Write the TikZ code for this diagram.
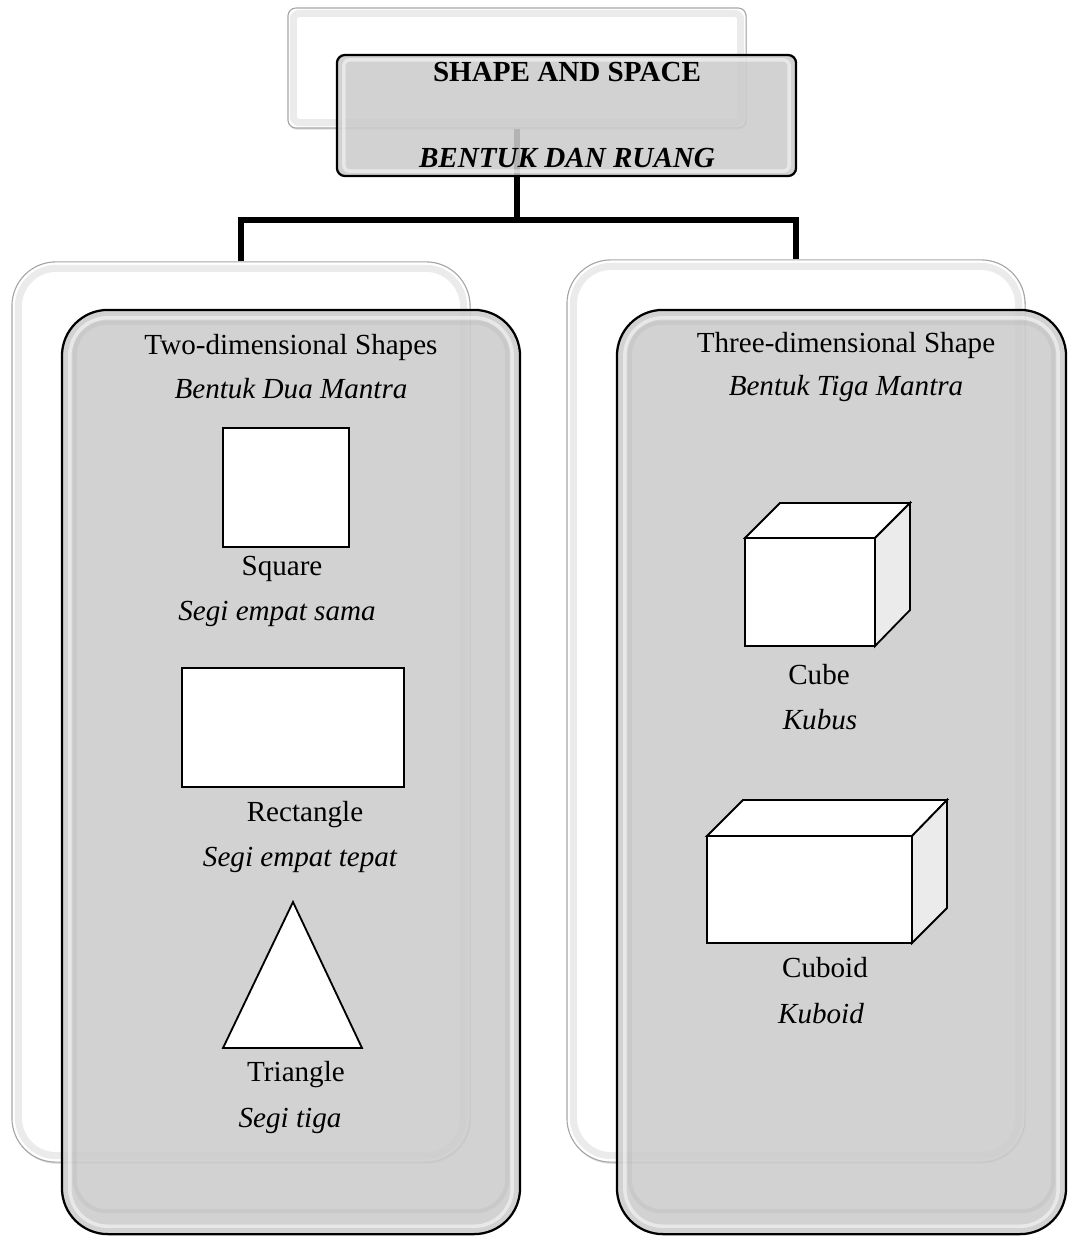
\documentclass[tikz,border=0pt]{standalone}
\usepackage{fontspec}
\setmainfont{Liberation Serif}
\usetikzlibrary{shadows}
\begin{document}
\begin{tikzpicture}[x=0.025cm,y=-0.025cm,
  backbox/.style={draw=black!35,fill=white,line width=0.8pt,inner sep=0pt,
    drop shadow={opacity=0.25,shadow xshift=0.6pt,shadow yshift=-1.2pt}},
  backbevel/.style={draw=black!8,line width=5pt},
  frontbox/.style={draw=black,fill=black!20,fill opacity=0.88,line width=1.6pt,inner sep=0pt},
  bevellight/.style={draw=white,line width=2.5pt,opacity=0.5},
  beveldark/.style={draw=black!30,line width=3pt,opacity=0.25},
  txt/.style={font=\fontsize{20.7}{24}\selectfont,inner sep=0pt},
  itxt/.style={txt,font=\fontsize{20.7}{24}\selectfont\itshape},
  btxt/.style={txt,font=\fontsize{20.7}{24}\selectfont\bfseries},
  conn/.style={line width=3.6pt},
  solid2d/.style={draw=black,fill=white,line width=1.3pt},
  side3d/.style={draw=black,fill=black!8,line width=1.3pt,line join=miter},
]
\useasboundingbox (0,0) rectangle (1068,1236);

% back boxes
\node[backbox,rounded corners=0.2cm,minimum width=11.45cm,minimum height=3.0cm] (tb) at (517,68) {};
\node[backbox,rounded corners=1.1cm,minimum width=11.45cm,minimum height=22.5cm] (lb) at (241,712) {};
\node[backbox,rounded corners=1.1cm,minimum width=11.45cm,minimum height=22.55cm] (rb) at (796,711) {};
% back-box bevels
\draw[backbevel,rounded corners=0.15cm] ([shift={(6,6)}]tb.north west) rectangle ([shift={(-6,-6)}]tb.south east);
\draw[backbevel,rounded corners=0.95cm] ([shift={(7,7)}]lb.north west) rectangle ([shift={(-7,-7)}]lb.south east);
\draw[backbevel,rounded corners=0.95cm] ([shift={(7,7)}]rb.north west) rectangle ([shift={(-7,-7)}]rb.south east);

% connectors
\coordinate (j) at (517,220);
\draw[conn] (tb.south) -- (j);
\draw[conn] (lb.north) |- (j) -| (rb.north);

% front boxes
\node[frontbox,rounded corners=0.2cm,minimum width=11.475cm,minimum height=3.025cm] (tf) at (566.5,115.5) {};
\node[frontbox,rounded corners=1.15cm,minimum width=11.45cm,minimum height=23.1cm] (lf) at (291,772) {};
\node[frontbox,rounded corners=1.15cm,minimum width=11.225cm,minimum height=23.1cm] (rf) at (841.5,772) {};
% front-box bevels
\draw[bevellight,rounded corners=0.15cm] ([shift={(8,6)}]tf.north west) rectangle ([shift={(-8,-6)}]tf.south east);
\draw[bevellight,rounded corners=0.95cm] ([shift={(9,9)}]lf.north west) rectangle ([shift={(-9,-9)}]lf.south east);
\draw[bevellight,rounded corners=0.95cm] ([shift={(9,9)}]rf.north west) rectangle ([shift={(-9,-9)}]rf.south east);
\draw[beveldark,rounded corners=0.8cm] ([shift={(14,14)}]lf.north west) rectangle ([shift={(-14,-24)}]lf.south east);
\draw[beveldark,rounded corners=0.8cm] ([shift={(14,14)}]rf.north west) rectangle ([shift={(-14,-24)}]rf.south east);

% title texts
\node[btxt] (title) at (567,72) {SHAPE AND SPACE};
\node[btxt,font=\fontsize{20.7}{24}\selectfont\bfseries\itshape] (titlem) at (567,158) {BENTUK DAN RUANG};

% left column
\node[txt] (h2) at (291,347) {Two-dimensional Shapes};
\node[itxt] (h2m) at (291,389) {Bentuk Dua Mantra};
\node[solid2d,minimum width=3.15cm,minimum height=2.975cm,inner sep=0pt] (sq) at (286,487.5) {};
\node[txt] (sqt) at (282,569) {Square};
\node[itxt] (sqm) at (277,614) {Segi empat sama};
\node[solid2d,minimum width=5.55cm,minimum height=2.975cm,inner sep=0pt] (re) at (293,727.5) {};
\node[txt] (ret) at (305,815) {Rectangle};
\node[itxt] (rem) at (300,860) {Segi empat tepat};
\coordinate (ta) at (293,902);
\coordinate (tl) at (223,1048);
\coordinate (tr) at (362,1048);
\draw[solid2d,line join=miter] (ta) -- (tl) -- (tr) -- cycle;
\node[txt] (trt) at (296,1075) {Triangle};
\node[itxt] (trm) at (290,1121) {Segi tiga};

% right column
\node[txt] (h3) at (846,345) {Three-dimensional Shape};
\node[itxt] (h3m) at (846,388) {Bentuk Tiga Mantra};
% cube
\draw[solid2d,line join=miter] (745,538) -- (780,503) -- (910,503) -- (875,538) -- cycle;
\draw[side3d] (875,538) -- (910,503) -- (910,610) -- (875,646) -- cycle;
\node[solid2d,minimum width=3.25cm,minimum height=2.7cm,inner sep=0pt] (cube) at (810,592) {};
\node[txt] (cut) at (819,675) {Cube};
\node[itxt] (cum) at (820,720) {Kubus};
% cuboid
\draw[solid2d,line join=miter] (707,836) -- (743,800) -- (947,800) -- (912,836) -- cycle;
\draw[side3d] (912,836) -- (947,800) -- (947,908) -- (912,943) -- cycle;
\node[solid2d,minimum width=5.125cm,minimum height=2.675cm,inner sep=0pt] (cuboid) at (809.5,889.5) {};
\node[txt] (cbt) at (825,968) {Cuboid};
\node[itxt] (cbm) at (821,1014) {Kuboid};
\end{tikzpicture}
\end{document}
